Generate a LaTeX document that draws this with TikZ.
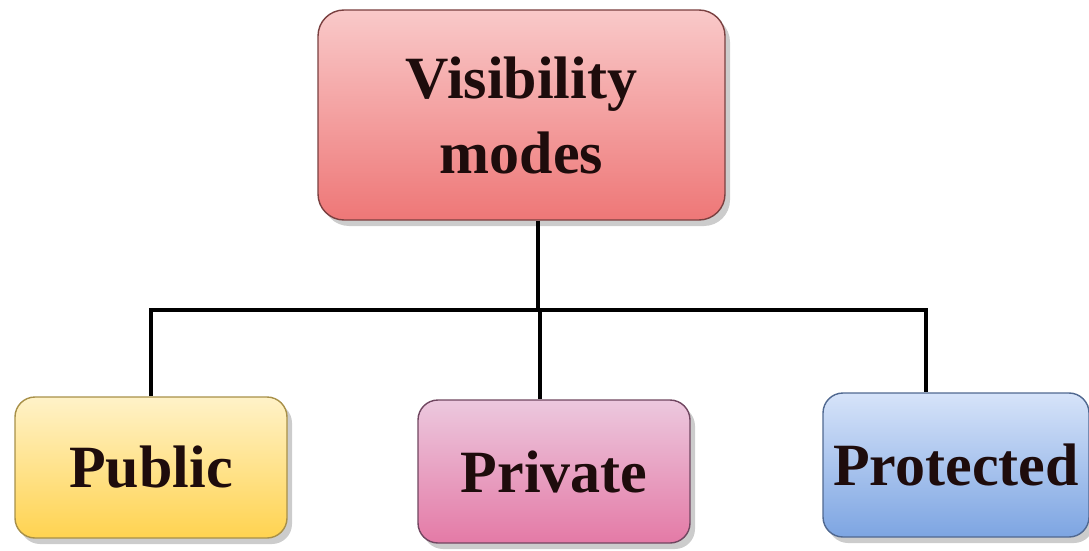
\documentclass[tikz,border=0pt]{standalone}
\usepackage{fontspec}
\setmainfont{Liberation Serif}
\usepackage{xcolor}
\usetikzlibrary{shadows,positioning,calc}

\definecolor{redtop}{HTML}{F9C9C9}
\definecolor{redbot}{HTML}{EE7777}
\definecolor{redline}{HTML}{7A4040}
\definecolor{yeltop}{HTML}{FFF2C8}
\definecolor{yelbot}{HTML}{FFD350}
\definecolor{yelline}{HTML}{A89048}
\definecolor{pintop}{HTML}{ECC8DE}
\definecolor{pinbot}{HTML}{E47AA6}
\definecolor{pinline}{HTML}{704660}
\definecolor{blutop}{HTML}{D6E3F9}
\definecolor{blubot}{HTML}{7DA5E2}
\definecolor{bluline}{HTML}{506890}
\definecolor{txt}{HTML}{1E0C0C}

\begin{document}
\begin{tikzpicture}[x=1pt, y=1pt, line width=4.5pt,
    every node/.style={font=\fontsize{60}{75}\selectfont\bfseries, text=txt},
    mode/.style={draw, line width=1.4pt, rectangle, rounded corners=20pt, align=center,
        drop shadow={opacity=0.4, shadow xshift=5pt, shadow yshift=-6pt}}]
    \useasboundingbox (0,0) rectangle (1089,550);

    \node [mode, rounded corners=26pt, minimum width=407pt, minimum height=210pt, draw=redline,
        top color=redtop, bottom color=redbot] (vis) at (521.5,435) {Visibility\\modes};
    \node [mode, minimum width=272pt, minimum height=141pt, draw=yelline,
        top color=yeltop, bottom color=yelbot] (pub) at (151,82.5) {Public};
    \node [mode, minimum width=272pt, minimum height=143pt, draw=pinline,
        top color=pintop, bottom color=pinbot] (priv) at (554,78.5) {Private};
    \node [mode, minimum width=266pt, minimum height=144pt, draw=bluline,
        top color=blutop, bottom color=blubot] (prot) at (956,85) {Protected};

    \coordinate (hub) at (538,240);

    \draw (vis.south -| hub) -- (hub);
    \draw (hub) -| (pub.north);
    \draw (hub) -| ([xshift=-14pt]priv.north);
    \draw (hub) -| ([xshift=-30pt]prot.north);
\end{tikzpicture}
\end{document}
